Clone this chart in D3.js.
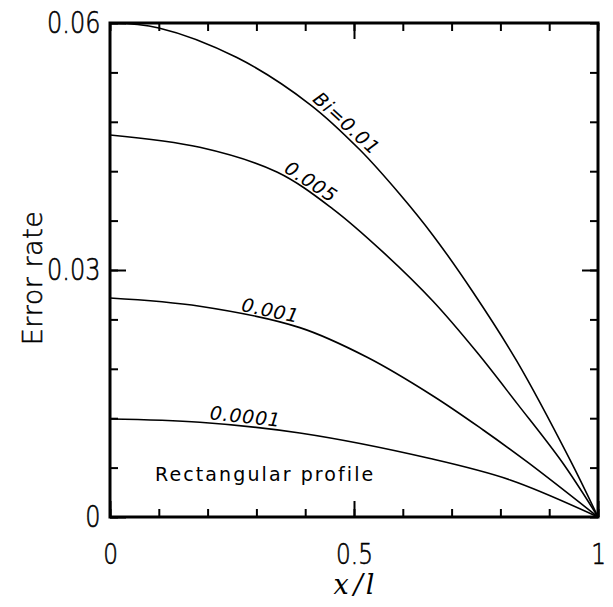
<!DOCTYPE html>
<html>
<head>
<meta charset="utf-8">
<script src="https://cdn.jsdelivr.net/npm/d3@7"></script>
<style>
  body { margin: 0; background: #fff; }
  svg { display: block; }
</style>
</head>
<body>
<div id="chart"></div>
<script>
// Error rate vs x/l for a rectangular fin profile, one curve per Biot number
// values: [x/l, error rate]
const bi001 = [[0, 0.060], [0.1, 0.0594], [0.26, 0.0558], [0.41, 0.0501], [0.512, 0.0446],
               [0.594, 0.0392], [0.662, 0.0342], [0.744, 0.0273], [0.834, 0.0189], [0.943, 0.0069], [1, 0]];
const bi0005 = [[0, 0.0464], [0.184, 0.0449], [0.342, 0.0419], [0.457, 0.0374], [0.559, 0.0322],
                [0.662, 0.0262], [0.752, 0.0200], [0.834, 0.0138], [0.926, 0.0067], [1, 0]];
const bi0001 = [[0, 0.0266], [0.184, 0.0256], [0.389, 0.0230], [0.527, 0.0194], [0.662, 0.0147],
                [0.764, 0.0106], [0.857, 0.0066], [1, 0]];
const bi00001 = [[0, 0.0119], [0.184, 0.0115], [0.389, 0.0102], [0.656, 0.0071], [0.82, 0.0045], [1, 0]];

const seriesList = [bi001, bi0005, bi0001, bi00001];
const curveLabels = ['Bi=0.01', '0.005', '0.001', '0.0001'];
const labelAt = [0.47, 0.40, 0.324, 0.275];   // x/l where each label sits

const xMinorTicks = d3.range(0, 1.0001, 0.1);
const xMajorTicks = [0, 0.5, 1];
const xTickLabels = ['0', '0.5', '1'];
const yMinorTicks = d3.range(0, 0.06001, 0.006);
const yMajorTicks = [0, 0.03, 0.06];
const yTickLabels = ['0', '0.03', '0.06'];

const margin = { top: 23, right: 15, bottom: 90, left: 110 };
const width = 613 - margin.left - margin.right;
const height = 607 - margin.top - margin.bottom;

const svg = d3.select('#chart')
    .append('svg')
    .attr('width', 613)
    .attr('height', 607)
    .append('g')
    .attr('transform', `translate(${margin.left},${margin.top})`);

const x = d3.scaleLinear().domain([0, 1]).range([0, width]);
const y = d3.scaleLinear().domain([0, 0.06]).range([height, 0]);

const lightFont = '"DejaVu Sans ExtraLight", "DejaVu Sans Light", "DejaVu Sans", sans-serif';

// curves
const line = d3.line()
    .x(d => x(d[0]))
    .y(d => y(d[1]))
    .curve(d3.curveCatmullRom.alpha(0.5));

svg.selectAll('.curve')
    .data(seriesList)
    .enter()
    .append('path')
    .attr('class', 'curve')
    .attr('d', line)
    .attr('fill', 'none')
    .attr('stroke', '#000')
    .attr('stroke-width', 1.6);

// linear lookup on a series, good enough to place the labels
function valueAt(data, xv) {
    for (let i = 1; i < data.length; i++) {
        if (xv <= data[i][0]) {
            const t = (xv - data[i - 1][0]) / (data[i][0] - data[i - 1][0]);
            return data[i - 1][1] + t * (data[i][1] - data[i - 1][1]);
        }
    }
    return data[data.length - 1][1];
}

seriesList.forEach((data, i) => {
    const xv = labelAt[i];
    const px = x(xv), py = y(valueAt(data, xv));
    const dx = x(xv + 0.04) - x(xv - 0.04);
    const dy = y(valueAt(data, xv + 0.04)) - y(valueAt(data, xv - 0.04));
    const angle = Math.atan2(dy, dx) * 180 / Math.PI;
    svg.append('text')
        .attr('transform', `translate(${px},${py}) rotate(${angle})`)
        .attr('y', -4)
        .attr('text-anchor', 'middle')
        .style('font-family', '"DejaVu Sans", sans-serif')
        .style('font-style', 'italic')
        .style('font-size', '19px')
        .style('letter-spacing', '0.8px')
        .text(curveLabels[i]);
});

// axes, ticks point inward
function styleAxis(g, size) {
    g.select('.domain').remove();
    g.selectAll('line').attr('stroke', '#000').attr('stroke-width', 2);
    g.selectAll('text')
        .attr('transform', 'scale(0.8,1)')
        .style('font-family', lightFont)
        .style('font-weight', 200)
        .style('font-size', (size || 30) + 'px')
        .attr('fill', '#000')
        .attr('stroke', '#000')
        .attr('stroke-width', 0.6);
}

svg.append('g')
    .attr('transform', `translate(0,${height})`)
    .call(d3.axisBottom(x).tickValues(xMinorTicks).tickSize(-8).tickFormat(''))
    .call(styleAxis);
svg.append('g')
    .attr('transform', `translate(0,${height})`)
    .call(d3.axisBottom(x).tickValues(xMajorTicks).tickSize(-16).tickPadding(26)
        .tickFormat((d, i) => xTickLabels[i]))
    .call(styleAxis, 29);

svg.append('g')
    .call(d3.axisTop(x).tickValues(xMinorTicks).tickSize(-8).tickFormat(''))
    .call(styleAxis);
svg.append('g')
    .call(d3.axisTop(x).tickValues([0.5]).tickSize(-16).tickFormat(''))
    .call(styleAxis);

svg.append('g')
    .call(d3.axisLeft(y).tickValues(yMinorTicks).tickSize(-8).tickFormat(''))
    .call(styleAxis);
svg.append('g')
    .call(d3.axisLeft(y).tickValues(yMajorTicks).tickSize(-16).tickPadding(12)
        .tickFormat((d, i) => yTickLabels[i]))
    .call(styleAxis);

svg.append('g')
    .attr('transform', `translate(${width},0)`)
    .call(d3.axisRight(y).tickValues(yMinorTicks).tickSize(-8).tickFormat(''))
    .call(styleAxis);
svg.append('g')
    .attr('transform', `translate(${width},0)`)
    .call(d3.axisRight(y).tickValues([0.03]).tickSize(-16).tickFormat(''))
    .call(styleAxis);

// frame
svg.append('rect')
    .attr('x', 0)
    .attr('y', 0)
    .attr('width', width)
    .attr('height', height)
    .attr('fill', 'none')
    .attr('stroke', '#000')
    .attr('stroke-width', 3);

// labels
svg.append('text')
    .attr('transform', `translate(${-68},${height / 2 + 8}) rotate(-90)`)
    .attr('text-anchor', 'middle')
    .style('font-family', lightFont)
    .style('font-weight', 200)
    .style('font-size', '27px')
    .style('letter-spacing', '0.5px')
    .attr('stroke', '#000')
    .attr('stroke-width', 0.5)
    .text('Error rate');

const xl = svg.append('text')
    .attr('x', width / 2)
    .attr('y', height + 77)
    .attr('text-anchor', 'middle')
    .style('font-family', '"DejaVu Serif", serif')
    .style('font-style', 'italic')
    .style('font-size', '27px');
xl.append('tspan').text('x');
xl.append('tspan').attr('dx', 5).text('/');
xl.append('tspan').attr('dx', 3).text('l');

svg.append('text')
    .attr('x', 45)
    .attr('y', height - 36)
    .style('font-family', '"DejaVu Sans", sans-serif')
    .style('font-size', '19px')
    .style('letter-spacing', '2.1px')
    .text('Rectangular profile');
</script>
</body>
</html>
